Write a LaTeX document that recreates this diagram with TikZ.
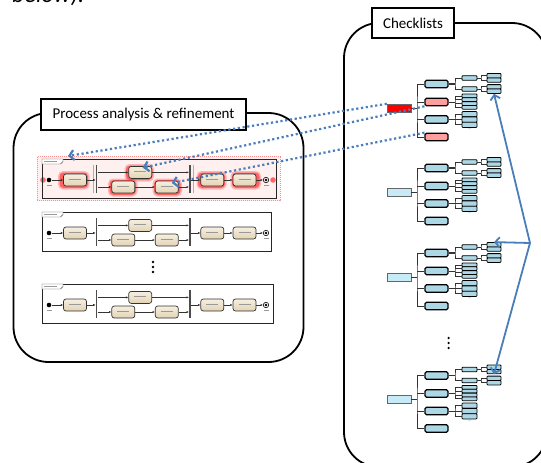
\documentclass[tikz,border=0pt]{standalone}
\usepackage{fontspec}
\setmainfont{Carlito}
\usetikzlibrary{arrows.meta,shadows}

\definecolor{linkblue}{HTML}{4A7EBB}
\definecolor{acttop}{HTML}{F6EFE0}
\definecolor{actbot}{HTML}{E2D3B4}
\definecolor{ckblue}{HTML}{ADD7E4}
\definecolor{ckrootblue}{HTML}{C6EBF6}
\definecolor{ckpink}{HTML}{FF9E9E}
\definecolor{glowred}{HTML}{FF2A2A}

% faint stand-in for the tiny labels inside the activity boxes
\newcommand\actmark{\raisebox{2pt}{\textcolor{black!40}{\rule{12pt}{0.7pt}}}}
% soft red halo behind a highlighted activity
\newcommand\redglow[4]{%
  \fill[glowred,opacity=0.3,rounded corners=5pt] (#1-1.5,#2-1.5) rectangle (#3+1.5,#4+1.5);
  \fill[glowred,opacity=0.6,rounded corners=4pt] (#1,#2) rectangle (#3,#4);}

\tikzset{
  panel/.style={draw=black, line width=1.8pt, rounded corners=35pt, inner sep=0pt},
  paneltitle/.style={draw=black, line width=1.5pt, fill=white, inner sep=0pt,
    font=\fontsize{15}{17}\selectfont},
  frameline/.style={draw=black!85, line width=0.8pt},
  tabline/.style={draw=black!70, line width=0.4pt, fill=white},
  textmark/.style={draw=black!40, line width=0.5pt},
  act/.style={draw=black!80, line width=0.7pt, rounded corners=2.5pt,
    top color=acttop, bottom color=actbot, minimum width=23pt,
    minimum height=12pt, inner sep=0pt},
  syncbar/.style={fill=black!70, minimum width=1.6pt, minimum height=28pt, inner sep=0pt},
  initstate/.style={circle, fill=black, minimum size=4.6pt, inner sep=0pt},
  finalstate/.style={circle, draw=black, line width=0.6pt, minimum size=5.4pt, inner sep=0pt,
    path picture={\fill[black] (path picture bounding box.center) circle (1.4pt);}},
  flow/.style={draw=black!80, line width=0.6pt, -{Latex[length=2.4pt,width=2.2pt]}},
  ckline/.style={draw=black!80, line width=0.7pt},
  ckrootbox/.style={draw=black!60, line width=0.4pt, fill=ckrootblue, minimum width=24pt,
    minimum height=8pt, inner sep=0pt,
    drop shadow={shadow xshift=0.9pt, shadow yshift=-0.9pt, opacity=0.7, fill=black!60}},
  ckrootfill/.style={},
  ckbfill/.style={},
  ckdfill/.style={},
  ck1/.style={draw=black, line width=1.1pt, fill=ckblue, rounded corners=1.5pt,
    minimum width=23pt, minimum height=7.5pt, inner sep=0pt},
  ck2/.style={draw=black, line width=0.8pt, fill=ckblue, rounded corners=0.8pt,
    minimum width=15pt, inner sep=0pt},
  ck3/.style={draw=black, line width=0.8pt, fill=ckblue, rounded corners=0.8pt,
    minimum width=14pt, minimum height=4.4pt, inner sep=0pt},
  linkdot/.style={draw=linkblue, line width=2.2pt, dash pattern=on 2.2pt off 2.6pt,
    -{Straight Barb[length=4.5pt,width=10pt]}},
  linkarrow/.style={draw=linkblue, line width=1.8pt,
    -{Straight Barb[length=4.5pt,width=10pt]}},
  % one activity flow: start, task, fork, two branches, join, two tasks, end
  procflow/.pic={
    \draw[frameline] (0,0) rectangle (#1,39);
    \path[tabline] (0,0) -- (21,0) -- (21,2.5) -- (18.5,5) -- (0,5) -- cycle;
    \draw[textmark] (2,2.5) -- (15,2.5);
    \coordinate (-tip) at (26,-3);
    \node[initstate] (-start) at (7,21) {};
    \draw[textmark] (5,26.5) -- (9.5,26.5);
    \node[act] (-first) at (33,21) {\actmark};
    \node[syncbar] (-fork) at (54.6,19.6) {};
    \node[act] (-up) at (98.2,13.4) {\actmark};
    \node[act] (-la) at (81.3,28) {\actmark};
    \node[act] (-lb) at (124.8,28) {\actmark};
    \node[syncbar] (-join) at (148,20) {};
    \node[act] (-c) at (170.3,21) {\actmark};
    \node[act] (-d) at (202.5,21) {\actmark};
    \node[finalstate] (-end) at (224,21) {};
    \draw[textmark] (222,26.5) -- (226.5,26.5);
    \draw[flow] (-start) -- (-first);
    \draw[flow] (-first) -- (-first -| -fork.west);
    \draw[flow] (-fork.east |- -up) -- (-up);
    \draw[flow] (-fork.east |- -la) -- (-la);
    \draw[flow] (-la) -- (-lb);
    \draw[flow] (-up) -- (-up -| -join.west);
    \draw[flow] (-lb) -- (-lb -| -join.west);
    \draw[flow] (-join.east |- -c) -- (-c);
    \draw[flow] (-c) -- (-d);
    \draw[flow] (-d) -- (-end);
  },
  % red highlighting laid under the first flow
  procglow/.pic={
    \fill[red!6] (-5,-2.5) rectangle (238,41.5);
    \draw[red!45, line width=0.5pt, dash pattern=on 1pt off 1pt] (-5,-2.5) rectangle (238,41.5);
    \fill[glowred, opacity=0.7] (1,21) circle (2.8);
    \fill[glowred, opacity=0.7] (231,21) circle (2.8);
    \redglow{17.5}{13.5}{46}{29}
    \redglow{84}{6.5}{110.5}{21}
    \redglow{67.5}{21}{94}{36}
    \redglow{112}{21}{138.5}{36}
    \redglow{156}{13.5}{183}{29}
    \redglow{190}{13.5}{217.5}{29}
    \draw[red!45, line width=0.6pt] (51.6,5.6) -- (51.6,33.6);
    \draw[red!45, line width=0.6pt] (151,6) -- (151,34);
  },
  % one checklist tree
  checktree/.pic={
    \node[ckrootbox, ckrootfill] (-root) at (12,24) {};
    \node[ck1] (-a) at (49.5,0) {};
    \node[ck1, ckbfill] (-b) at (49.5,18) {};
    \node[ck1] (-c) at (49.5,35.5) {};
    \node[ck1, ckdfill] (-d) at (49.5,53) {};
    \coordinate (-spine) at (30,24);
    \draw[ckline] (-root) -- (-spine);
    \draw[ckline] (-a) -| (-spine) |- (-d);
    \draw[ckline] (-b) -- (-b -| -spine);
    \draw[ckline] (-c) -- (-c -| -spine);
    % first item: two sub-items, each with a pair of leaves
    \node[ck2, minimum height=4.6pt] (-a1) at (82.5,-6) {};
    \node[ck2, minimum height=4.6pt] (-a2) at (82.5,5) {};
    \coordinate (-ka) at (68,0);
    \draw[ckline, line width=1.1pt] (-a) -- (-ka);
    \draw[ckline] (-a1) -| (-ka) |- (-a2);
    \node[ck3] (-a1x) at (107,-8.3) {};
    \node[ck3] (-a1y) at (107,-3.9) {};
    \coordinate (-ka1) at (94,-6);
    \draw[ckline] (-a1) -- (-ka1);
    \draw[ckline] (-a1x) -| (-ka1) |- (-a1y);
    \node[ck3] (-a2x) at (107,2.8) {};
    \node[ck3] (-a2y) at (107,7.2) {};
    \coordinate (-ka2) at (94,5);
    \draw[ckline] (-a2) -- (-ka2);
    \draw[ckline] (-a2x) -| (-ka2) |- (-a2y);
    % second item: four sub-items
    \node[ck2, minimum height=3.8pt] (-b1) at (82.5,11.9) {};
    \node[ck2, minimum height=3.8pt] (-b2) at (82.5,15.7) {};
    \node[ck2, minimum height=3.8pt] (-b3) at (82.5,19.5) {};
    \node[ck2, minimum height=3.8pt] (-b4) at (82.5,23.3) {};
    \coordinate (-kb) at (68,18);
    \draw[ckline] (-b) -- (-kb);
    \draw[ckline] (-b1) -| (-kb) |- (-b4);
    \draw[ckline] (-b2) -- (-b2 -| -kb);
    \draw[ckline] (-b3) -- (-b3 -| -kb);
    % third item: three sub-items and more
    \node[ck2, minimum height=5.3pt] (-c1) at (82.5,30.2) {};
    \node[ck2, minimum height=5.3pt] (-c2) at (82.5,35.5) {};
    \node[ck2, minimum height=5.3pt] (-c3) at (82.5,40.8) {};
    \coordinate (-kc) at (68,35.5);
    \draw[ckline] (-c) -- (-kc);
    \draw[ckline] (-c1) -| (-kc) |- (-c3);
    \draw[ckline] (-c2) -- (-kc);
    \node[font=\fontsize{5}{5}\selectfont, text=black!50, inner sep=0pt] (-more) at (82.5,45.5) {...};
  }
}

\begin{document}
\begin{tikzpicture}[x=1pt, y=-1pt]
  \useasboundingbox (0,0) rectangle (541,463);
  \fill[white] (0,0) rectangle (541,463);

  % tail of the caption line above
  \node[anchor=base west, font=\fontsize{24}{24}\selectfont\itshape, inner sep=0pt]
    (caption) at (12,2) {below).};

  % the two panels
  \node[panel, minimum width=290pt, minimum height=249pt] (procpanel) at (158.5,237.5) {};
  \node[panel, minimum width=203pt, minimum height=444pt] (ckpanel) at (445.5,245) {};
  \node[paneltitle, minimum width=205pt, minimum height=31pt] (proctitle) at (143.5,114.5)
    {Process analysis \& refinement};
  \node[paneltitle, minimum width=82pt, minimum height=30pt] (cktitle) at (413,23)
    {Checklists};

  % activity flows
  \pic (g1) at (42,159) {procglow};
  \pic (d1) at (42,159) {procflow=234};
  \pic (d2) at (42,212) {procflow=229};
  \pic (d3) at (42,284) {procflow=231};
  \foreach \yy in {262,267,272} \fill (153,\yy) circle (1.3);

  % checklist trees
  \pic[ckrootfill/.style={fill=red, drop shadow={opacity=0}},
       ckbfill/.style={fill=ckpink}, ckdfill/.style={fill=ckpink}] (t1) at (387,84) {checktree};
  \pic (t2) at (387,168) {checktree};
  \pic (t3) at (387,253) {checktree};
  \pic (t4) at (387,375.5) {checktree};
  \foreach \yy in {338,343,348} \fill (448.6,\yy) circle (1.3);

  % links from the checklist items back to the flow
  \draw[linkdot] (t1-root.north west) -- (d1-tip);
  \draw[linkdot] (t1-b.south west) -- ([shift={(2.5,1.6)}]d1-up.north);
  \draw[linkdot] (t1-d.north west) -- ([shift={(5,-4)}]d1-lb.center);

  % fan of arrows into the leaves
  \coordinate (fanout) at (530,243);
  \draw[linkarrow] (fanout) -- (t1-a2y.south);
  \draw[linkarrow] (fanout) -- (t3-a1x.north);
  \draw[linkarrow] (fanout) -- (t4-a1y.south);
\end{tikzpicture}
\end{document}
